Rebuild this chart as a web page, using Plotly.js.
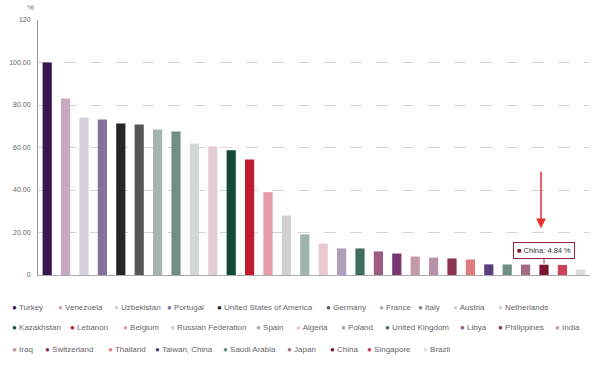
<!DOCTYPE html>
<html>
<head>
<meta charset="utf-8">
<script src="https://cdn.plot.ly/plotly-3.0.1.min.js"></script>
<style>html,body{margin:0;padding:0;background:#fff;}#chart{width:606px;height:366px;}</style>
</head>
<body>
<div id="chart"></div>
<script>
const countries = ["Turkey","Venezuela","Uzbekistan","Portugal","United States of America","Germany","France","Italy","Austria","Netherlands",
  "Kazakhstan","Lebanon","Belgium","Russian Federation","Spain","Algeria","Poland","United Kingdom","Libya","Philippines","India",
  "Iraq","Switzerland","Thailand","Taiwan, China","Saudi Arabia","Japan","China","Singapore","Brazil"];
const values = [100, 83.1, 74.1, 73.2, 71.3, 70.8, 68.5, 67.5, 61.9, 60.5,
  58.7, 54.4, 39.0, 28.0, 19.1, 14.8, 12.5, 12.5, 11.1, 10.1, 8.7,
  8.2, 7.8, 7.3, 5.0, 4.95, 4.9, 4.84, 4.7, 2.6];
const barColors = ["#3a1550","#c9a8c3","#d5d0db","#86719a","#262626","#575757","#a3b5ad","#6f8f81","#d3d8d6","#e2cdd4",
  "#124a34","#c01a2c","#e79aa8","#d0d0d0","#9fb5a9","#efc7d0","#ae9fba","#3f6e5b","#9d5a81","#7c3573","#c49aa6",
  "#b891ac","#8c3352","#de7b85","#58407b","#6b8f80","#a56a84","#7a1530","#cf4059","#dcdcdc"];
const yTickVals = [0, 20, 40, 60, 80, 100, 120];
const yTickText = ["0", "20.00", "40.00", "60.00", "80.00", "100.00", "120"];
const highlightIndex = 27;

// legend layout (pixel positions of each entry's dot, by row)
const legendRows = [
  {y: 307, x: [14, 60, 116, 169, 219, 328, 381, 420, 455, 500]},
  {y: 327, x: [14, 72, 125, 172, 258, 298, 343, 387, 462, 500, 557]},
  {y: 349, x: [14, 47, 110, 157, 225, 289, 332, 369, 425]}
];

const FONT = '"Liberation Sans", Arial, sans-serif';
const M = {l: 38, r: 16, t: 20, b: 91};
const W = 606, H = 366;
const PW = W - M.l - M.r, PH = H - M.t - M.b;

const traces = countries.map((c, i) => ({
  type: 'bar', x: [c], y: [values[i]], name: c,
  marker: {color: barColors[i]}, width: 0.5, showlegend: false,
  hovertemplate: c + ': %{y} %<extra></extra>'
}));

const annotations = [];
annotations.push({xref: 'paper', yref: 'paper', x: (30 - M.l) / PW, y: (H - M.b - 8) / PH,
  xanchor: 'center', yanchor: 'middle', text: '%', showarrow: false, font: {family: FONT, size: 8, color: '#777'}});

annotations.push({x: countries[highlightIndex], y: values[highlightIndex] + 0.6, xref: 'x', yref: 'y',
  text: '<span style="color:' + barColors[highlightIndex] + '">■</span> ' + countries[highlightIndex] + ': ' + values[highlightIndex].toFixed(2) + ' %',
  showarrow: true, arrowhead: 0, arrowwidth: 1, arrowcolor: '#9a2238', ax: 0, ay: -4, yanchor: 'bottom',
  bgcolor: '#ffffff', bordercolor: '#9a2238', borderwidth: 1, borderpad: 3,
  font: {family: FONT, size: 7.5, color: '#333'}});

annotations.push({x: countries[highlightIndex], y: 22, xref: 'x', yref: 'y', text: '',
  showarrow: true, arrowhead: 2, arrowsize: 1.3, arrowwidth: 1.5, arrowcolor: '#e5322d',
  ax: 0, ay: -58, xshift: -3});

let idx = 0;
legendRows.forEach(row => {
  row.x.forEach(px => {
    annotations.push({xref: 'paper', yref: 'paper', x: (px - 3 - M.l) / PW, y: (H - M.b - row.y) / PH,
      xanchor: 'left', yanchor: 'middle', showarrow: false, borderpad: 0,
      text: '<span style="color:' + barColors[idx] + '">●</span> ' + countries[idx],
      font: {family: FONT, size: 8, color: '#666'}});
    idx++;
  });
});

const layout = {
  width: W, height: H, margin: M,
  paper_bgcolor: '#fff', plot_bgcolor: '#fff',
  barmode: 'overlay', showlegend: false,
  font: {family: FONT, size: 8, color: '#666'},
  xaxis: {type: 'category', showticklabels: false, ticks: '', showgrid: false, zeroline: false,
    showline: true, linecolor: '#aaa', linewidth: 1, fixedrange: true},
  yaxis: {range: [0, 120], tickvals: yTickVals, ticktext: yTickText, ticks: '',
    showgrid: true, gridcolor: '#d4d4d4', griddash: '12px,14px', gridwidth: 1,
    zeroline: false, showline: true, linecolor: '#999', linewidth: 1,
    tickfont: {family: FONT, size: 7, color: '#666'}, ticklabelstandoff: 5, fixedrange: true},
  annotations: annotations
};

Plotly.newPlot('chart', traces, layout, {displayModeBar: false, staticPlot: true});
</script>
</body>
</html>
